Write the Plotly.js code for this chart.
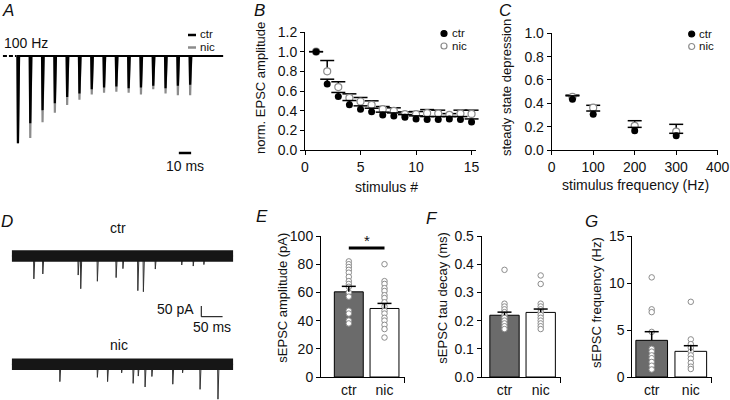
<!DOCTYPE html>
<html>
<head>
<meta charset="utf-8">
<script src="https://cdn.plot.ly/plotly-3.0.1.min.js"></script>
<style>
  html, body { margin: 0; padding: 0; background: #fff; }
  #fig { width: 730px; height: 400px; }
</style>
</head>
<body>
<div id="fig"></div>
<script>
// ---------- A : 100 Hz train (peak amplitudes, normalised to 1st EPSC)
var stimTimes = [0, 10, 20, 30, 40, 50, 60, 70, 80, 90, 100, 110, 120, 130, 140];   // ms
var trainCtr = [1.0, 0.77, 0.62, 0.54, 0.47, 0.43, 0.38, 0.36, 0.35, 0.37, 0.36, 0.34, 0.37, 0.34, 0.33];
var trainNic = [1.0, 0.94, 0.76, 0.65, 0.56, 0.50, 0.44, 0.42, 0.41, 0.42, 0.44, 0.38, 0.43, 0.45, 0.45];

// ---------- B : norm. EPSC amplitude vs stimulus #
var stimNum = [1, 2, 3, 4, 5, 6, 7, 8, 9, 10, 11, 12, 13, 14, 15];
var normCtr = [1.0, 0.67, 0.545, 0.46, 0.415, 0.39, 0.355, 0.345, 0.333, 0.316, 0.309, 0.309, 0.316, 0.309, 0.286];
var normCtrErr = [0, 0.05, 0.04, 0.043, 0.034, 0.035, 0.03, 0.032, 0.027, 0.031, 0.031, 0.031, 0.024, 0.031, 0.03];
var normNic = [1.0, 0.80, 0.64, 0.53, 0.493, 0.459, 0.415, 0.398, 0.364, 0.364, 0.374, 0.37, 0.357, 0.37, 0.367];
var normNicErr = [0, 0.11, 0.054, 0.041, 0.041, 0.041, 0.027, 0.031, 0.024, 0.027, 0.037, 0.035, 0.013, 0.035, 0.038];

// ---------- C : steady state depression vs frequency
var freqs = [50, 100, 200, 300];
var ssdCtr = [0.434, 0.306, 0.166, 0.123];
var ssdCtrErr = [0.03, 0.028, 0.028, 0.02];
var ssdNic = [0.455, 0.363, 0.206, 0.157];
var ssdNicErr = [0.015, 0.02, 0.045, 0.063];

// ---------- D : example sEPSC traces (event time ms, amplitude pA)
var traceLen = 520;
var evCtrT = [52, 73, 156, 162, 201, 245, 261, 296, 309, 337, 399, 426, 451];
var evCtrA = [107, 84, 89, 153, 118, 101, 59, 162, 167, 61, 42, 47, 40];
var evNicT = [113, 201, 225, 258, 285, 297, 313, 329, 378, 401, 442, 484];
var evNicA = [81, 61, 81, 40, 89, 55, 106, 57, 93, 40, 117, 163];

// ---------- E, F, G : sEPSC summary
var groups = ['ctr', 'nic'];
var ampMean = [60.4, 48.6];
var ampErr = [3.9, 3.6];
var ampCtrPts = [82, 80, 78, 76, 74, 71, 68, 66, 64, 60, 57, 47, 45, 40, 38];
var ampNicPts = [80, 68, 66, 63, 61, 58, 56, 53, 50, 47, 45, 42, 40, 37, 34, 28];
var ampSigY = 91.5;

var tauMean = [0.219, 0.229];
var tauErr = [0.011, 0.012];
var tauCtrPts = [0.38, 0.26, 0.25, 0.24, 0.23, 0.22, 0.21, 0.20, 0.19, 0.18, 0.17];
var tauNicPts = [0.36, 0.33, 0.26, 0.25, 0.24, 0.23, 0.22, 0.21, 0.20, 0.19, 0.18, 0.17];

var freqMean = [3.9, 2.73];
var freqErr = [0.92, 0.6];
var freqCtrPts = [10.6, 7.2, 6.9, 4.8, 3.0, 2.7, 2.3, 2.0, 1.6, 1.2, 0.8];
var freqNicPts = [8.0, 4.0, 3.5, 3.1, 2.7, 2.3, 1.95, 1.5, 1.1, 0.85];


var W = 730, H = 400;
function px(x) { return x / W; }
function py(y) { return 1 - y / H; }

var GRAY = '#8c8c8c';
var DARK = '#6b6b6b';

// spike train line built from peak list
function trainXY(amps) {
  var x = [-1], y = [0];
  for (var i = 0; i < stimTimes.length; i++) {
    var t = stimTimes[i];
    x.push(t - 0.2, t + 0.2, t + 1.1);
    y.push(0, -amps[i], 0);
  }
  x.push(167); y.push(0);
  return {x: x, y: y};
}

function eventXY(times, amps) {
  var x = [0], y = [0];
  for (var i = 0; i < times.length; i++) {
    x.push(times[i] - 0.8, times[i], times[i] + 2.5);
    y.push(0, -amps[i], 0);
  }
  x.push(traceLen); y.push(0);
  return {x: x, y: y};
}

function plus(a, b) { return a.map(function(v, i) { return v + b[i]; }); }
function zeros(n) { return new Array(n).fill(0); }
function fill(n, v) { return new Array(n).fill(v); }

// one-sided (upwards) error bar with cap on top
function errTrace(xs, mean, err, xa, ya) {
  return {
    x: xs, y: plus(mean, err), xaxis: xa, yaxis: ya,
    type: 'scatter', mode: 'markers', hoverinfo: 'skip', cliponaxis: false,
    marker: {symbol: 'line-ew', size: 10, color: '#000', line: {color: '#000', width: 1.5}},
    error_y: {type: 'data', symmetric: false, array: zeros(xs.length), arrayminus: err,
              width: 0, thickness: 1.5, color: '#000'}
  };
}

var trA_nic = trainXY(trainNic), trA_ctr = trainXY(trainCtr);
var evC = eventXY(evCtrT, evCtrA), evN = eventXY(evNicT, evNicA);

var data = [
  // A
  {x: [-12, -1], y: [0, 0], xaxis: 'x', yaxis: 'y', mode: 'lines', line: {color: '#000', width: 2, dash: '4px,2px'}},
  {x: trA_nic.x, y: trA_nic.y, xaxis: 'x', yaxis: 'y', mode: 'lines', line: {color: GRAY, width: 2.2}},
  {x: trA_ctr.x, y: trA_ctr.y, xaxis: 'x', yaxis: 'y', mode: 'lines', line: {color: '#000', width: 2.2}},

  // B
  errTrace(stimNum, normNic, normNicErr, 'x2', 'y2'),
  {x: stimNum, y: normNic, xaxis: 'x2', yaxis: 'y2', mode: 'markers',
   marker: {size: 7, color: '#fff', line: {color: GRAY, width: 1.2}}},
  errTrace(stimNum, normCtr, normCtrErr, 'x2', 'y2'),
  {x: stimNum, y: normCtr, xaxis: 'x2', yaxis: 'y2', mode: 'markers',
   marker: {size: 7, color: '#000'}},

  // C
  errTrace(freqs, ssdNic, ssdNicErr, 'x3', 'y3'),
  {x: freqs, y: ssdNic, xaxis: 'x3', yaxis: 'y3', mode: 'markers',
   marker: {size: 7, color: '#fff', line: {color: GRAY, width: 1.2}}},
  errTrace(freqs, ssdCtr, ssdCtrErr, 'x3', 'y3'),
  {x: freqs, y: ssdCtr, xaxis: 'x3', yaxis: 'y3', mode: 'markers',
   marker: {size: 7, color: '#000'}},

  // D  (events first, noise band on top hides their baseline)
  {x: evC.x, y: evC.y, xaxis: 'x4', yaxis: 'y4', mode: 'lines', line: {color: '#333', width: 1}},
  {x: [0, traceLen], y: [0, 0], xaxis: 'x4', yaxis: 'y4', mode: 'lines', line: {color: '#161616', width: 11.5}},
  {x: evN.x, y: evN.y, xaxis: 'x4', yaxis: 'y8', mode: 'lines', line: {color: '#333', width: 1}},
  {x: [0, traceLen], y: [0, 0], xaxis: 'x4', yaxis: 'y8', mode: 'lines', line: {color: '#161616', width: 11.5}}
];

function barPanel(mean, err, ctrPts, nicPts, xa, ya) {
  data.push({type: 'bar', x: [0, 1], y: mean, width: 0.81, xaxis: xa, yaxis: ya,
             marker: {color: [DARK, '#fff'], line: {color: '#000', width: 1}}});
  data.push({x: fill(ctrPts.length, 0), y: ctrPts, xaxis: xa, yaxis: ya, mode: 'markers',
             marker: {size: 5.5, color: '#fff', line: {color: GRAY, width: 1}}});
  data.push({x: fill(nicPts.length, 1), y: nicPts, xaxis: xa, yaxis: ya, mode: 'markers',
             marker: {size: 5.5, color: '#fff', line: {color: GRAY, width: 1}}});
  data.push(errTrace([0, 1], mean, err, xa, ya));
}
barPanel(ampMean, ampErr, ampCtrPts, ampNicPts, 'x5', 'y5');
barPanel(tauMean, tauErr, tauCtrPts, tauNicPts, 'x6', 'y6');
barPanel(freqMean, freqErr, freqCtrPts, freqNicPts, 'x7', 'y7');

var axBase = {
  showline: true, linecolor: '#000', linewidth: 1,
  ticks: 'outside', ticklen: 4, tickwidth: 1, tickcolor: '#000',
  showgrid: false, zeroline: false, fixedrange: true,
  tickfont: {size: 14, color: '#111'}
};
function ax(extra) { return Object.assign({}, axBase, extra); }

// x range so that bar centres land on the measured pixels
function barX(a0, a1, c0, c1) {
  var u = c1 - c0;
  var r1 = (a1 - c0) / u;
  return ax({domain: [px(a0), px(a1)], range: [(a0 - c0) / u, r1],
             tickmode: 'array', tickvals: [0, 1], ticktext: groups, ticks: '',
             minor: {tickmode: 'array', tickvals: [r1 - 0.001], ticks: 'outside', ticklen: 5,
                     tickwidth: 1, tickcolor: '#000', showgrid: false}});
}

var msPx = 1.23;   // A: px per ms
var aBase = 56, aUnit = 87.3;
var dPx = 0.4262, pApx = 50 / 10.7;

var layout = {
  width: W, height: H,
  margin: {l: 0, r: 0, t: 0, b: 0},
  showlegend: false,
  paper_bgcolor: '#fff', plot_bgcolor: 'rgba(0,0,0,0)',
  font: {family: 'Liberation Sans, Arial, sans-serif', size: 14, color: '#111'},

  xaxis: {domain: [0, px(230)], range: [-17.7 / msPx, (230 - 17.7) / msPx], visible: false, fixedrange: true},
  yaxis: {domain: [py(160), py(35)], range: [-(160 - aBase) / aUnit, (aBase - 35) / aUnit], visible: false, fixedrange: true},

  xaxis2: ax({domain: [px(305), px(476)], range: [0, 15.4], tickmode: 'array', tickvals: [0, 5, 10, 15], anchor: 'y2'}),
  yaxis2: ax({domain: [py(150), py(32)], range: [0, 1.2], tickmode: 'array',
              tickvals: [0, 0.2, 0.4, 0.6, 0.8, 1.0, 1.2], tickformat: '.1f', anchor: 'x2'}),

  xaxis3: ax({domain: [px(551.7), px(717.7)], range: [0, 400], tickmode: 'array', tickvals: [0, 100, 200, 300, 400], anchor: 'y3'}),
  yaxis3: ax({domain: [py(150), py(33.3)], range: [0, 1.0], tickmode: 'array',
              tickvals: [0, 0.2, 0.4, 0.6, 0.8, 1.0], tickformat: '.1f', anchor: 'x3'}),

  xaxis4: {domain: [px(11.7), px(233.3)], range: [0, traceLen], visible: false, fixedrange: true, anchor: 'y4'},
  yaxis4: {domain: [py(300), py(235)], range: [-(300 - 256) * pApx, (256 - 235) * pApx], visible: false, fixedrange: true, anchor: 'x4'},
  yaxis8: {domain: [py(400), py(345)], range: [-(400 - 364.3) * pApx, (364.3 - 345) * pApx], visible: false, fixedrange: true, anchor: 'x4'},

  xaxis5: Object.assign(barX(321, 405, 348.8, 384.5), {anchor: 'y5'}),
  yaxis5: ax({domain: [py(377), py(236)], range: [0, 100], tickmode: 'array', tickvals: [0, 20, 40, 60, 80, 100], anchor: 'x5'}),
  xaxis6: Object.assign(barX(481.7, 561, 504.5, 540.7), {anchor: 'y6'}),
  yaxis6: ax({domain: [py(377), py(236)], range: [0, 0.5], tickmode: 'array',
              tickvals: [0, 0.1, 0.2, 0.3, 0.4, 0.5], tickformat: '.1f', anchor: 'x6'}),
  xaxis7: Object.assign(barX(632.3, 711.7, 651.7, 690.8), {anchor: 'y7'}),
  yaxis7: ax({domain: [py(377), py(236)], range: [0, 15], tickmode: 'array', tickvals: [0, 5, 10, 15], anchor: 'x7'}),

  shapes: [],
  annotations: []
};

function note(x, y, text, opt) {
  var a = {xref: 'paper', yref: 'paper', x: px(x), y: py(y), text: text, showarrow: false,
           xanchor: 'center', yanchor: 'middle', font: {size: 14, color: '#111'}};
  layout.annotations.push(Object.assign(a, opt || {}));
}
function vtitle(x, y, text, size) {
  note(x, y, text, {textangle: -90, font: {size: size || 13, color: '#111'}});
}
function pline(x0, y0, x1, y1, color, w) {
  layout.shapes.push({type: 'line', xref: 'paper', yref: 'paper', x0: px(x0), y0: py(y0), x1: px(x1), y1: py(y1),
                      line: {color: color, width: w}});
}
function dot(cx, cy, filled) {
  layout.shapes.push({type: 'circle', xref: 'paper', yref: 'paper',
                      x0: px(cx - 3), x1: px(cx + 3), y0: py(cy + 3), y1: py(cy - 3),
                      fillcolor: filled ? '#000' : '#fff', line: {color: filled ? '#000' : GRAY, width: 1.2}});
}
// legend entries sit close together: small font, no padding
function leg(x, y, text) {
  note(x, y, text, {xanchor: 'left', borderpad: 0, font: {size: 11.5, color: '#111'}});
}

// panel letters
[['A', 7.5, 11], ['B', 259.5, 11], ['C', 505, 11], ['D', 6.7, 221],
 ['E', 261.7, 216], ['F', 432, 218], ['G', 591.7, 221]].forEach(function(p) {
  note(p[1], p[2], '<i>' + p[0] + '</i>', {font: {size: 17, color: '#111'}});
});

// A texts, legend, scale bar
note(1.5, 43, '100 Hz', {xanchor: 'left'});
pline(188, 35, 196, 35, '#000', 2.5);
pline(188, 47.5, 196, 47.5, GRAY, 2.5);
leg(199, 33.5, 'ctr');
leg(199, 47, 'nic');
layout.shapes.push({type: 'line', xref: 'x', yref: 'paper', x0: 131, x1: 141, y0: py(153), y1: py(153),
                    line: {color: '#000', width: 2.5}});
note(185, 166, '10 ms');

// B
vtitle(261, 88, 'norm. EPSC amplitude');
note(386.7, 187, 'stimulus #');
dot(444, 33.5, true); dot(444, 46, false);
leg(451, 33, 'ctr');
leg(451, 46, 'nic');

// C
vtitle(507, 88, 'steady state depression');
note(635, 185, 'stimulus frequency (Hz)');
dot(691.7, 34, true); dot(691.7, 46.5, false);
leg(698, 33.5, 'ctr');
leg(698, 46.5, 'nic');

// D
note(118, 228, 'ctr');
note(119, 345, 'nic');
var sbX = (201.3 - 11.7) / dPx;
layout.shapes.push({type: 'line', xref: 'x4', yref: 'paper', x0: sbX, x1: sbX, y0: py(306), y1: py(316.7),
                    line: {color: '#000', width: 1}});
layout.shapes.push({type: 'line', xref: 'x4', yref: 'paper', x0: sbX, x1: sbX + 50, y0: py(316.7), y1: py(316.7),
                    line: {color: '#000', width: 1}});
note(196.5, 309, '50 pA', {xanchor: 'right'});
note(211.5, 327, '50 ms');

// E, F, G
vtitle(281.7, 298, 'sEPSC amplitude (pA)');
vtitle(441.7, 298, 'sEPSC tau decay (ms)');
vtitle(596, 303, 'sEPSC frequency (Hz)');
layout.shapes.push({type: 'line', xref: 'x5', yref: 'y5', x0: 0, x1: 1, y0: ampSigY, y1: ampSigY,
                    line: {color: '#000', width: 3}});
layout.annotations.push({xref: 'x5', yref: 'y5', x: 0.5, y: ampSigY + 5, text: '*', showarrow: false,
                         font: {size: 15, color: '#111'}});

Plotly.newPlot('fig', data, layout, {staticPlot: true, displayModeBar: false});
</script>
</body>
</html>
